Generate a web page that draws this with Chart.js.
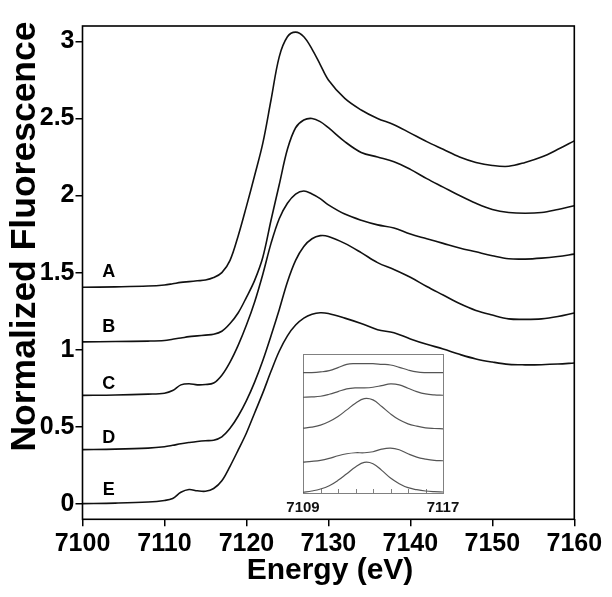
<!DOCTYPE html>
<html>
<head>
<meta charset="utf-8">
<script src="https://cdn.jsdelivr.net/npm/chart.js@4.4.0/dist/chart.umd.min.js"></script>
<style>
    html, body { margin: 0; padding: 0; background: #fff; }
    #wrap { position: relative; width: 612px; height: 597px; }
    #mainChart { position: absolute; left: 0; top: 0; }
    #insetChart { position: absolute; left: 263px; top: 344px; }
</style>
</head>
<body>
<div id="wrap">
    <canvas id="mainChart" width="612" height="597"></canvas>
    <canvas id="insetChart" width="200" height="180"></canvas>
</div>
<script>
// Main spectra (energy in eV, normalized fluorescence, offset per sample)
const energy = [7100, 7104, 7108, 7110, 7111, 7112, 7113, 7114, 7115, 7116, 7117, 7118, 7119, 7120, 7121, 7122, 7123, 7124, 7125, 7126, 7127, 7128, 7129, 7130, 7132, 7134, 7136, 7138, 7140, 7142, 7144, 7146, 7148, 7150, 7152, 7154, 7156, 7158, 7160];
const seriesA = [1.405, 1.408, 1.413, 1.420, 1.428, 1.437, 1.442, 1.447, 1.452, 1.468, 1.50, 1.58, 1.74, 1.93, 2.13, 2.34, 2.62, 2.90, 3.03, 3.06, 3.03, 2.95, 2.85, 2.75, 2.63, 2.555, 2.50, 2.46, 2.405, 2.35, 2.30, 2.25, 2.215, 2.195, 2.19, 2.215, 2.25, 2.30, 2.355];
const seriesB = [1.051, 1.053, 1.056, 1.060, 1.068, 1.076, 1.085, 1.090, 1.095, 1.10, 1.12, 1.17, 1.24, 1.34, 1.45, 1.60, 1.84, 2.07, 2.30, 2.44, 2.49, 2.50, 2.48, 2.44, 2.35, 2.28, 2.25, 2.22, 2.17, 2.11, 2.055, 2.00, 1.95, 1.91, 1.89, 1.885, 1.89, 1.91, 1.934];
const seriesC = [0.704, 0.706, 0.712, 0.718, 0.735, 0.772, 0.779, 0.772, 0.774, 0.784, 0.835, 0.92, 1.03, 1.16, 1.31, 1.49, 1.69, 1.85, 1.95, 2.01, 2.03, 2.01, 1.98, 1.94, 1.88, 1.84, 1.81, 1.79, 1.75, 1.72, 1.69, 1.66, 1.635, 1.61, 1.59, 1.588, 1.594, 1.605, 1.62];
const seriesD = [0.352, 0.355, 0.362, 0.371, 0.380, 0.390, 0.398, 0.405, 0.410, 0.413, 0.435, 0.49, 0.57, 0.67, 0.79, 0.93, 1.09, 1.26, 1.44, 1.58, 1.67, 1.72, 1.74, 1.735, 1.69, 1.63, 1.565, 1.52, 1.47, 1.41, 1.355, 1.30, 1.255, 1.225, 1.20, 1.197, 1.20, 1.215, 1.238];
const seriesE = [0.002, 0.005, 0.012, 0.022, 0.035, 0.075, 0.093, 0.085, 0.082, 0.10, 0.15, 0.244, 0.35, 0.46, 0.59, 0.72, 0.86, 0.99, 1.09, 1.16, 1.205, 1.23, 1.24, 1.235, 1.205, 1.17, 1.13, 1.11, 1.07, 1.035, 1.005, 0.97, 0.94, 0.92, 0.905, 0.902, 0.903, 0.907, 0.914];
const seriesNames = ['A', 'B', 'C', 'D', 'E'];

const xTicks = [7100, 7110, 7120, 7130, 7140, 7150, 7160];
const yTicks = [0, 0.5, 1, 1.5, 2, 2.5, 3];
const yTickLabels = ['0', '0.5', '1', '1.5', '2', '2.5', '3'];

// Inset: pre-edge region, same samples top to bottom
const insetEnergy = [7109, 7109.5, 7110, 7110.5, 7111, 7111.5, 7112, 7112.5, 7113, 7113.5, 7114, 7114.5, 7115, 7115.5, 7116, 7116.5, 7117];
const insetA = [3.62, 3.62, 3.64, 3.68, 3.77, 3.87, 3.89, 3.89, 3.89, 3.87, 3.85, 3.78, 3.70, 3.64, 3.62, 3.62, 3.62];
const insetB = [2.88, 2.89, 2.91, 2.97, 3.05, 3.13, 3.16, 3.16, 3.18, 3.23, 3.28, 3.25, 3.15, 3.05, 2.98, 2.95, 2.94];
const insetC = [1.95, 1.98, 2.04, 2.15, 2.30, 2.50, 2.70, 2.84, 2.80, 2.60, 2.38, 2.20, 2.08, 2.01, 1.96, 1.94, 1.93];
const insetD = [0.93, 0.95, 0.98, 1.04, 1.12, 1.18, 1.21, 1.21, 1.24, 1.32, 1.35, 1.30, 1.18, 1.08, 1.02, 0.98, 0.97];
const insetE = [0.02, 0.06, 0.12, 0.22, 0.38, 0.58, 0.78, 0.92, 0.88, 0.68, 0.45, 0.28, 0.16, 0.10, 0.06, 0.04, 0.03];
const insetTicks = [7109, 7110, 7111, 7112, 7113, 7114, 7115, 7116, 7117];
const insetTickLabels = ['7109', '', '', '', '', '', '', '', '7117'];

// where the sample letters sit (data coordinates)
const letterX = 7103.2;
const letterY = [1.505, 1.146, 0.78, 0.428, 0.091];

const FONT = '"Liberation Sans", Arial, Helvetica, sans-serif';

document.addEventListener('DOMContentLoaded', function() {
    initMainChart();
    initInsetChart();
});

function toPoints(xs, ys) {
    return xs.map((x, i) => ({ x: x, y: ys[i] }));
}

function initMainChart() {
    const ctx = document.getElementById('mainChart').getContext('2d');
    const all = [seriesA, seriesB, seriesC, seriesD, seriesE];

    // box round the plot area
    const framePlugin = {
        id: 'frame',
        afterDatasetsDraw(chart) {
            const a = chart.chartArea;
            const c = chart.ctx;
            c.save();
            c.strokeStyle = '#000';
            c.lineWidth = 1.6;
            c.strokeRect(a.left, a.top, a.right - a.left, a.bottom - a.top);
            c.restore();
        }
    };

    // axis titles and sample letters
    const textPlugin = {
        id: 'texts',
        afterDraw(chart) {
            const c = chart.ctx;
            const xs = chart.scales.x, ys = chart.scales.y;
            c.save();
            c.fillStyle = '#000';
            c.font = 'bold 30px ' + FONT;
            c.textAlign = 'center';
            c.textBaseline = 'alphabetic';
            c.fillText('Energy (eV)', 330, 579);

            c.save();
            c.translate(35, 236.5);
            c.rotate(-Math.PI / 2);
            c.font = 'bold 35.5px ' + FONT;
            c.fillText('Normalized Fluorescence', 0, 0);
            c.restore();

            c.font = 'bold 18px ' + FONT;
            c.textBaseline = 'middle';
            seriesNames.forEach((name, i) => {
                c.fillText(name, xs.getPixelForValue(letterX), ys.getPixelForValue(letterY[i]));
            });
            c.restore();
        }
    };

    new Chart(ctx, {
        type: 'line',
        data: {
            datasets: all.map((s, i) => ({
                label: seriesNames[i],
                data: toPoints(energy, s),
                borderColor: '#111',
                borderWidth: 1.6,
                pointRadius: 0,
                tension: 0.35,
                fill: false
            }))
        },
        options: {
            responsive: false,
            animation: false,
            layout: { padding: { top: 26, right: 37.7, left: 0, bottom: 0 } },
            plugins: {
                legend: { display: false },
                tooltip: { enabled: false }
            },
            scales: {
                x: {
                    type: 'linear',
                    min: 7100,
                    max: 7160,
                    afterBuildTicks: function(scale) {
                        scale.ticks = xTicks.map(v => ({ value: v }));
                    },
                    afterFit: function(scale) { scale.height = 77.7; },
                    grid: { drawOnChartArea: false, color: '#000', lineWidth: 1.5, tickLength: 7 },
                    border: { display: false },
                    ticks: {
                        color: '#000',
                        font: { family: FONT, size: 25, weight: 'bold' },
                        padding: 3,
                        maxRotation: 0,
                        autoSkip: false,
                        callback: function(value) { return String(value); }
                    }
                },
                y: {
                    type: 'linear',
                    min: -0.1,
                    max: 3.1,
                    afterBuildTicks: function(scale) {
                        scale.ticks = yTicks.map(v => ({ value: v }));
                    },
                    afterFit: function(scale) { scale.width = 82.5; },
                    grid: { drawOnChartArea: false, color: '#000', lineWidth: 1.5, tickLength: 7 },
                    border: { display: false },
                    ticks: {
                        color: '#000',
                        font: { family: FONT, size: 25, weight: 'bold' },
                        padding: 1,
                        autoSkip: false,
                        callback: function(value, index) { return yTickLabels[index]; }
                    }
                }
            }
        },
        plugins: [framePlugin, textPlugin]
    });
}

function initInsetChart() {
    const ctx = document.getElementById('insetChart').getContext('2d');
    const all = [insetA, insetB, insetC, insetD, insetE];

    // grey box with small inward ticks
    const insetFrame = {
        id: 'insetFrame',
        beforeDatasetsDraw(chart) {
            const a = chart.chartArea;
            const c = chart.ctx;
            const xs = chart.scales.x;
            c.save();
            c.fillStyle = '#fff';
            c.fillRect(a.left, a.top, a.right - a.left, a.bottom - a.top);
            c.strokeStyle = '#808080';
            c.lineWidth = 1;
            c.strokeRect(a.left + 0.5, a.top + 0.5, a.right - a.left, a.bottom - a.top);
            c.beginPath();
            insetTicks.forEach(v => {
                const px = Math.round(xs.getPixelForValue(v)) + 0.5;
                c.moveTo(px, a.bottom);
                c.lineTo(px, a.bottom - 4);
            });
            c.stroke();
            c.restore();
        }
    };

    new Chart(ctx, {
        type: 'line',
        data: {
            datasets: all.map((s, i) => ({
                label: seriesNames[i],
                data: toPoints(insetEnergy, s),
                borderColor: '#555',
                borderWidth: 1.2,
                pointRadius: 0,
                tension: 0.4,
                fill: false
            }))
        },
        options: {
            responsive: false,
            animation: false,
            layout: { padding: { top: 10, right: 20, left: 40, bottom: 0 } },
            plugins: {
                legend: { display: false },
                tooltip: { enabled: false }
            },
            scales: {
                x: {
                    type: 'linear',
                    min: 7109,
                    max: 7117,
                    afterBuildTicks: function(scale) {
                        scale.ticks = insetTicks.map(v => ({ value: v }));
                    },
                    afterFit: function(scale) { scale.height = 31; },
                    grid: { display: false },
                    border: { display: false },
                    ticks: {
                        color: '#111',
                        font: { family: FONT, size: 15, weight: 'bold' },
                        padding: -2,
                        maxRotation: 0,
                        autoSkip: false,
                        callback: function(value, index) { return insetTickLabels[index]; }
                    }
                },
                y: { display: false, min: 0, max: 4.18 }
            }
        },
        plugins: [insetFrame]
    });
}
</script>
</body>
</html>
